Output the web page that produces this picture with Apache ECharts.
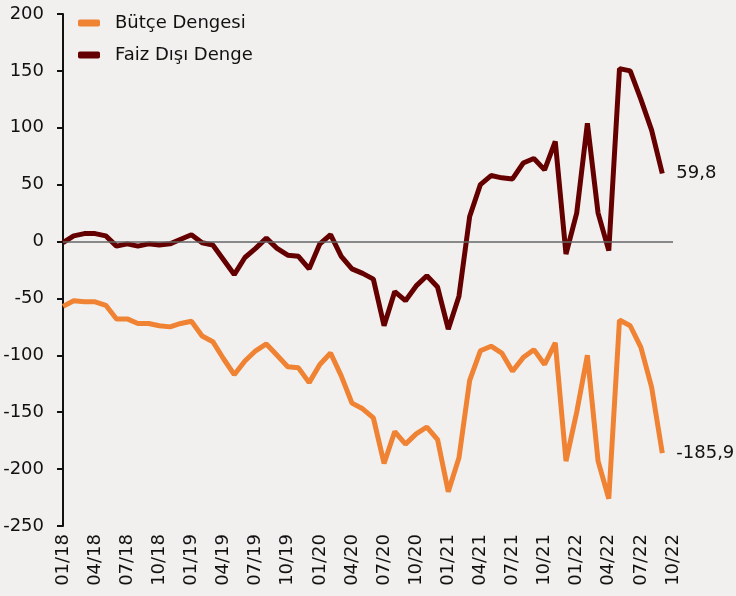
<!DOCTYPE html>
<html>
<head>
<meta charset="utf-8">
<script src="https://cdn.jsdelivr.net/npm/echarts@6/dist/echarts.min.js"></script>
<style>
  html, body { margin: 0; padding: 0; background: #f2f0ee; }
  #chart { width: 736px; height: 596px; }
</style>
</head>
<body>
<div id="chart"></div>
<script>
// aylar (01/18 - 10/22)
var months = [
  '01/18','02/18','03/18','04/18','05/18','06/18','07/18','08/18','09/18','10/18','11/18','12/18',
  '01/19','02/19','03/19','04/19','05/19','06/19','07/19','08/19','09/19','10/19','11/19','12/19',
  '01/20','02/20','03/20','04/20','05/20','06/20','07/20','08/20','09/20','10/20','11/20','12/20',
  '01/21','02/21','03/21','04/21','05/21','06/21','07/21','08/21','09/21','10/21','11/21','12/21',
  '01/22','02/22','03/22','04/22','05/22','06/22','07/22','08/22','09/22','10/22'
]

// Bütçe Dengesi
var butce = [
  -57, -52, -53, -53, -56, -68, -68, -72, -72, -74, -75, -72,
  -70, -83, -88, -103, -117, -105, -96, -90, -100, -110, -111, -124,
  -108, -98, -118, -142, -147, -155, -195, -167, -178, -169, -163, -174,
  -220, -190, -122, -96, -92, -98, -114, -102, -95, -108, -89, -193,
  -150, -100, -193, -226, -69, -74, -93, -128, -185.9
]

// Faiz Dışı Denge
var faizDisi = [
  -1, 5, 7, 7, 5, -4, -2, -4, -2, -3, -2, 2,
  6, -1, -3, -16, -29, -14, -6, 3, -6, -12, -13, -24,
  -2, 6, -13, -24, -28, -33, -74, -44, -52, -39, -30, -40,
  -77, -48, 22, 50, 58, 56, 55, 69, 73, 63, 88, -11,
  25, 104, 25, -8, 152, 150, 125, 98, 59.8
]

var yTicks = { min: -250, max: 200, step: 50 }

var chart = echarts.init(document.getElementById('chart'))

var font = 'DejaVu Sans'

var endLbl = {
  show: true,
  formatter: function (p) { return String(p.value).replace('.', ',') },
  fontFamily: font,
  fontSize: 18,
  color: '#111',
  distance: 14
}

chart.setOption({
  backgroundColor: '#f2f0ee',
  animation: false,
  grid: { left: 63, right: 63, top: 14, bottom: 70, containLabel: false },
  legend: {
    orient: 'vertical',
    left: 73,
    top: 9,
    itemWidth: 22,
    itemHeight: 7,
    itemGap: 14,
    textStyle: { fontFamily: font, fontSize: 18, color: '#111', padding: [0, 0, 0, 10] },
    data: [
      { name: 'Bütçe Dengesi', icon: 'roundRect' },
      { name: 'Faiz Dışı Denge', icon: 'roundRect' }
    ]
  },
  xAxis: {
    type: 'category',
    data: months,
    boundaryGap: false,
    axisLine: { show: false },
    axisTick: { show: false },
    axisLabel: {
      interval: 2,
      rotate: 90,
      margin: 8,
      fontFamily: font,
      fontSize: 18,
      color: '#111'
    },
    splitLine: { show: false }
  },
  yAxis: {
    type: 'value',
    min: yTicks.min,
    max: yTicks.max,
    interval: yTicks.step,
    axisLine: { show: true, lineStyle: { color: '#111', width: 2 } },
    axisTick: { show: true, length: 6, lineStyle: { color: '#111', width: 2 } },
    axisLabel: { margin: 19, fontFamily: font, fontSize: 18, color: '#111' },
    splitLine: { show: false }
  },
  series: [
    {
      name: 'Bütçe Dengesi',
      type: 'line',
      data: butce,
      symbol: 'none',
      color: '#ef8233',
      lineStyle: { width: 5, color: '#ef8233' },
      endLabel: endLbl,
      markLine: {
        silent: true,
        symbol: 'none',
        label: { show: false },
        lineStyle: { color: '#666', width: 1.5, type: 'solid' },
        data: [{ yAxis: 0 }]
      }
    },
    {
      name: 'Faiz Dışı Denge',
      type: 'line',
      data: faizDisi,
      symbol: 'none',
      color: '#650000',
      lineStyle: { width: 5, color: '#650000' },
      endLabel: endLbl
    }
  ]
})
</script>
</body>
</html>
